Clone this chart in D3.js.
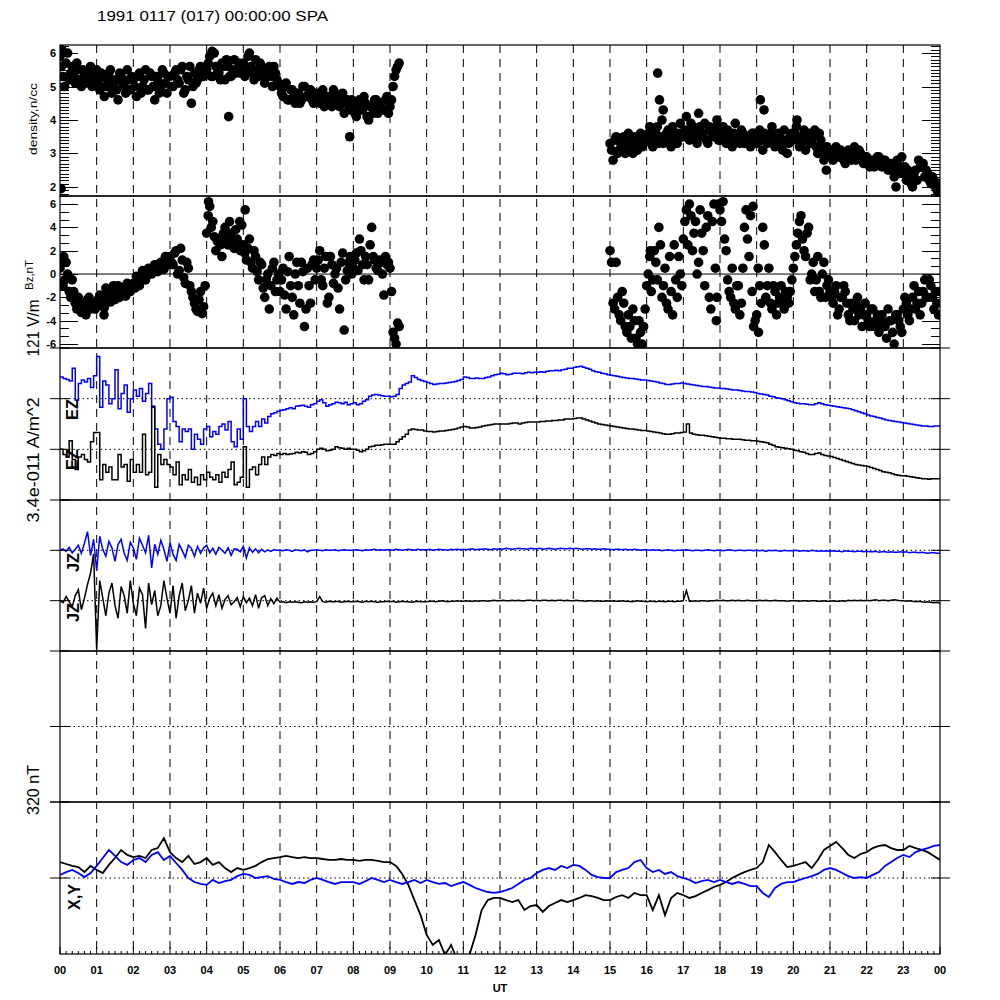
<!DOCTYPE html>
<html><head><meta charset="utf-8">
<script src="https://cdn.jsdelivr.net/npm/d3@7"></script>
<style>body{margin:0;background:#fff}svg{display:block}text{font-family:"Liberation Sans",Arial,sans-serif}</style>
</head><body><svg id="c" width="1000" height="1000"></svg>
<script>
// ---------------- DATA ----------------
const titleText = "1991 0117 (017) 00:00:00 SPA";
const hourLabels = ["00","01","02","03","04","05","06","07","08","09","10","11","12","13","14","15","16","17","18","19","20","21","22","23","00"];
const densityTicks = [2,3,4,5,6];
const bzTicks = [-6,-4,-2,0,2,4,6];
const stepScatter = 5/60;   // hours between scatter samples (each pass)
const passOffset = 2.5/60;  // second pass is offset by 2.5 min
const stepLine = 5/60;      // hours between E/J samples
const stepMag = 10/60;      // hours between X,Y samples

// density, n/cc  (segment 1 starts 00 UT, segment 2 starts 15 UT)
const densitySeg1Start = 0;
const densitySeg1 = [
5.9,5.3,5.7,5.2,5.6,5.1,5.5,5.0,5.4,5.2,5.6,5.1,
5.5,4.9,5.3,5.0,5.4,4.8,5.2,4.6,5.3,5.0,5.5,4.9,
5.2,4.7,5.4,5.0,5.5,4.9,5.3,4.6,5.2,5.0,5.4,4.8,
5.3,5.0,5.5,5.1,5.6,4.9,5.2,4.5,5.4,5.2,5.6,5.3,
5.5,5.9,5.3,5.6,5.4,5.7,5.2,5.6,5.3,5.8,5.5,5.4,
5.7,5.5,6.0,5.4,5.8,5.3,5.6,5.1,5.5,5.3,5.6,5.2,
5.0,4.7,5.1,4.6,4.9,4.5,4.8,4.6,5.0,4.7,4.9,4.5,
4.8,4.5,4.9,4.6,4.7,4.4,4.8,4.5,4.7,4.2,4.6,4.3,
4.4,4.1,4.6,4.3,4.5,4.0,4.4,4.6,4.2,4.5,4.3,4.7,
4.4,5.0,5.5,5.7];
const densitySeg1b = [
5.6,5.0,6.0,5.4,5.3,5.7,5.2,5.5,5.1,5.4,5.0,5.3,
5.1,5.4,4.7,5.2,5.5,5.0,4.9,5.4,5.1,4.8,5.2,5.3,
5.0,5.3,4.8,5.2,4.9,5.4,5.0,5.3,4.8,5.5,5.1,5.3,
5.0,5.4,5.2,5.5,4.8,5.3,5.6,5.0,5.1,5.5,5.3,5.5,
5.7,5.3,6.0,5.4,5.2,5.6,5.8,5.3,5.5,5.4,5.7,5.6,
5.3,5.9,5.6,5.2,5.5,5.7,5.4,5.3,5.6,5.0,5.4,5.1,
4.8,5.0,4.6,4.9,4.7,4.8,4.5,5.0,4.7,4.9,4.6,4.8,
4.6,4.8,4.4,4.7,4.5,4.9,4.6,4.4,4.8,4.5,4.4,4.6,
4.2,4.5,4.3,4.7,4.1,4.4,4.2,4.6,4.4,4.3,4.6,4.2,
4.6,5.3,5.6];
const densitySeg2Start = 15;
const densitySeg2 = [
3.3,2.8,3.5,3.1,3.4,3.0,3.6,3.2,3.5,3.1,3.6,3.3,
3.4,3.8,3.2,3.6,3.3,4.0,3.4,3.7,3.2,3.6,3.3,3.9,
3.5,4.1,3.4,3.8,3.6,4.2,3.5,3.9,3.3,3.7,3.6,4.0,
3.4,3.8,3.3,3.6,3.2,3.9,3.4,3.7,3.3,3.5,3.2,3.6,
3.3,3.7,3.1,3.5,3.4,3.8,3.2,3.6,3.3,3.7,3.0,3.5,
3.4,3.8,3.2,3.5,3.1,3.6,3.3,3.7,3.0,3.4,2.8,3.2,
3.1,2.8,3.2,2.9,3.0,2.7,3.1,2.8,3.2,2.9,3.0,2.7,
2.9,2.6,2.8,2.7,2.9,2.6,2.8,2.5,2.7,2.3,2.8,2.6,
2.4,2.2,2.3,2.0,2.5,2.8,2.6,2.3,2.4,2.1,2.2,1.9,
1.8];
const densitySeg2b = [
3.1,3.4,3.0,3.3,3.5,3.2,3.4,3.0,3.3,3.5,3.2,3.5,
3.6,3.3,3.5,3.8,3.5,3.3,3.6,3.4,3.8,3.4,3.6,3.5,
3.7,3.6,3.9,3.5,3.3,3.8,3.6,3.4,3.8,3.5,3.8,3.4,
3.6,3.5,3.7,3.4,3.6,3.5,3.3,3.6,3.5,3.3,3.6,3.4,
3.5,3.4,3.6,3.3,3.6,3.5,3.4,3.5,3.1,3.4,3.3,3.6,
3.6,3.5,3.3,3.7,3.4,3.3,3.5,3.2,3.6,3.2,3.0,3.0,
2.9,3.0,2.9,3.1,2.8,3.0,2.9,3.0,2.8,3.1,2.8,2.9,
2.7,2.8,2.6,2.9,2.7,2.8,2.6,2.7,2.5,2.6,2.4,2.9,
2.6,2.5,2.1,2.4,2.2,2.6,2.7,2.5,2.2,2.3,2.0,2.1];
const densityExtraT = [0.03,0.05,4.15,4.6,7.9,16.3,16.35,16.45,19.1,19.2,20.1,20.9,22.8];
const densityExtraV = [1.95,6.1,6.05,4.1,3.5,5.4,4.6,4.3,4.6,4.3,4.0,2.5,2.0];

// Bz, nT
const bzSeg1Start = 0;
const bzSeg1 = [
0.5,-1.0,1.0,-1.5,-0.5,-2.5,-2.0,-3.3,-2.8,-2.2,-3.0,-2.5,
-2.8,-1.8,-2.5,-1.2,-2.0,-1.5,-2.2,-1.0,-1.8,-1.3,-0.8,-1.5,
-0.8,-0.2,-1.0,0.3,-0.5,0.5,0.0,0.8,0.2,1.0,0.4,1.2,
1.5,0.8,2.0,0.3,1.2,-0.8,0.5,-1.5,-2.5,-3.2,-1.5,-2.8,
3.5,5.8,4.5,2.0,3.0,1.5,4.0,2.5,3.5,2.2,3.0,2.0,
2.5,1.2,3.0,0.5,1.5,-0.5,0.8,-2.0,0.0,-1.0,1.0,-0.5,
-1.5,0.5,-3.0,1.5,-2.0,0.0,-1.0,1.0,-4.5,0.5,-2.5,1.2,
0.5,2.0,-1.0,1.5,-2.0,0.8,0.0,-1.2,1.0,-4.8,0.3,1.5,
0.5,1.8,3.0,0.8,1.5,-0.5,4.0,1.2,0.3,1.0,-1.8,0.8,
0.5,-5.0,-6.0,-4.5];
const bzSeg1b = [
1.2,-0.5,0.0,-2.0,-1.5,-3.0,-2.5,-2.8,-3.5,-2.0,-2.7,-3.0,
-2.2,-2.0,-2.9,-1.6,-2.4,-1.0,-1.7,-2.0,-1.2,-1.9,-1.0,-1.2,
-1.2,-0.5,-0.3,0.0,-0.1,0.3,0.6,0.4,0.9,0.6,1.5,0.8,
1.0,1.8,0.0,2.2,-0.3,1.0,-1.0,-2.0,-3.0,-2.2,-3.4,-1.0,
5.0,4.0,3.2,2.8,2.5,3.5,3.0,4.5,2.8,3.8,2.5,4.2,
1.8,2.2,1.0,2.0,0.2,1.0,-1.2,-0.5,-3.0,0.5,-1.5,0.0,
-0.5,-1.8,0.2,-1.0,-3.5,1.0,-2.5,0.2,-3.0,-1.0,0.8,-0.5,
1.2,-0.5,0.5,-2.5,1.5,-0.8,0.5,-3.0,1.8,-0.5,1.0,0.0,
1.2,0.3,2.0,-0.5,0.8,2.5,1.5,0.5,1.2,0.0,1.5,1.0,
-1.5,-5.5,-4.2];
const bzSeg2Start = 15;
const bzSeg2 = [
2.0,-2.5,1.0,-3.5,-1.5,-4.5,-3.5,-5.5,-4.0,-6.0,-5.0,-4.5,
-1.0,1.5,-0.5,1.0,4.0,-2.0,0.5,-3.0,-1.5,2.5,-2.0,0.0,
3.0,5.5,6.0,2.0,4.5,1.0,3.5,-1.0,5.0,-3.0,6.0,-2.0,
5.5,6.2,2.0,-1.5,0.5,-3.0,-1.0,-2.5,4.0,3.0,5.0,-4.5,
-3.5,-1.0,4.0,-2.0,0.5,-3.0,-1.5,-2.5,-1.0,-3.0,-2.0,-1.5,
0.5,2.5,4.5,3.0,1.5,4.0,0.0,-1.5,1.5,-2.0,1.0,-1.0,
-1.5,-2.5,-1.0,-3.0,-2.0,-1.5,-3.5,-2.5,-4.0,-2.0,-3.0,-3.5,
-3.5,-4.5,-3.0,-4.0,-5.0,-3.5,-4.5,-3.0,-4.0,-6.0,-3.5,-4.5,
-3.0,-2.5,-4.0,-2.0,-3.0,-1.5,-2.5,-0.5,-2.0,-1.0,-3.0,-2.5,
-1.5];
const bzSeg2b = [
1.0,-3.0,-2.0,-4.0,-2.5,-5.0,-4.5,-3.0,-5.5,-4.0,-6.0,-3.0,
0.0,-1.5,2.0,-0.5,2.5,-1.0,-2.5,1.5,-3.5,-0.5,1.5,-1.0,
4.5,2.5,5.0,3.5,0.0,5.5,2.0,4.0,-2.0,4.5,0.5,6.0,
4.5,3.0,-0.5,-2.0,-2.5,-1.0,-3.5,0.5,5.5,1.5,-1.5,-4.0,
0.5,-2.5,2.5,-1.0,-2.5,-1.0,-3.5,-2.0,-2.5,-1.5,-2.5,-0.5,
1.5,3.5,5.0,2.0,3.5,-0.5,1.0,-0.5,-1.5,0.0,-2.0,-0.5,
-2.0,-1.5,-3.5,-2.0,-1.0,-2.5,-4.0,-3.0,-2.5,-3.5,-4.5,-2.5,
-4.0,-3.0,-4.5,-3.5,-4.0,-4.5,-5.5,-4.0,-5.0,-3.5,-4.0,-5.0,
-2.0,-3.5,-3.0,-1.0,-2.5,-3.5,-1.5,-2.0,-0.5,-2.0,-1.5,-3.5];
const bzExtraT = [0.1,1.2,4.05,4.9,5.05,16.1,17.9,18.9,19.05];
const bzExtraV = [1.5,-3.5,6.2,4.5,5.5,2.0,-4.0,5.8,-5.0];

// EZ (divisions of 121 V/m about each trace's baseline)
const ezBlue = [
0.43,0.40,0.38,0.35,0.60,-0.03,0.30,0.37,0.33,0.40,0.22,0.45,
0.83,-0.17,0.35,0.27,-0.10,0.00,0.57,-0.20,0.10,0.27,-0.27,0.00,
0.17,0.05,0.20,-0.05,0.10,0.30,-0.17,-0.60,-0.90,-1.00,-0.60,0.00,
0.03,-0.45,-0.55,-0.85,-0.60,-0.65,-0.60,-1.00,-0.70,-0.80,-0.90,-0.60,
-0.55,-0.75,-0.65,-0.70,-0.55,-0.50,-0.62,-0.45,-0.85,-0.95,-0.60,-0.80,
0.00,-0.55,-0.65,-0.55,-0.45,-0.55,-0.40,-0.48,-0.35,-0.30,-0.28,-0.25,
-0.23,-0.22,-0.20,-0.18,-0.20,-0.15,-0.14,-0.13,-0.15,-0.17,-0.12,-0.10,
-0.05,-0.02,-0.08,-0.15,-0.12,-0.10,-0.07,-0.08,-0.10,-0.07,-0.12,-0.10,
-0.08,-0.12,-0.10,-0.05,-0.02,0.05,0.07,0.08,0.07,0.06,0.05,0.05,
0.04,0.05,0.08,0.20,0.27,0.30,0.33,0.45,0.42,0.38,0.36,0.34,
0.32,0.30,0.28,0.29,0.30,0.30,0.31,0.32,0.33,0.34,0.36,0.38,
0.43,0.42,0.40,0.40,0.41,0.40,0.40,0.42,0.43,0.45,0.47,0.48,
0.50,0.49,0.47,0.48,0.50,0.50,0.50,0.49,0.51,0.52,0.51,0.52,
0.52,0.53,0.52,0.54,0.55,0.55,0.56,0.55,0.57,0.58,0.60,0.60,
0.62,0.63,0.64,0.62,0.60,0.58,0.55,0.53,0.52,0.50,0.49,0.47,
0.46,0.45,0.44,0.43,0.42,0.41,0.40,0.40,0.39,0.38,0.37,0.37,
0.36,0.35,0.34,0.33,0.31,0.30,0.28,0.28,0.29,0.30,0.30,0.31,
0.30,0.29,0.28,0.27,0.26,0.25,0.24,0.24,0.23,0.22,0.21,0.21,
0.20,0.20,0.19,0.18,0.17,0.17,0.16,0.15,0.14,0.14,0.13,0.12,
0.10,0.09,0.08,0.07,0.05,0.04,0.02,0.01,0.00,-0.02,-0.04,-0.06,
-0.08,-0.09,-0.10,-0.10,-0.11,-0.12,-0.12,-0.10,-0.08,-0.10,-0.12,-0.13,
-0.14,-0.15,-0.16,-0.17,-0.18,-0.19,-0.20,-0.22,-0.24,-0.26,-0.28,-0.30,
-0.32,-0.34,-0.35,-0.37,-0.38,-0.40,-0.42,-0.43,-0.44,-0.45,-0.46,-0.47,
-0.48,-0.49,-0.50,-0.51,-0.52,-0.53,-0.54,-0.54,-0.55,-0.55,-0.54,-0.54,
-0.54];
const ezBlack = [
0.00,-0.10,-0.15,0.17,-0.20,-0.40,-0.15,-0.10,-0.20,-0.25,0.15,0.33,
0.33,-0.60,-0.30,-0.45,-0.35,-0.60,-0.60,-0.10,-0.35,-0.30,-0.63,-0.20,
-0.45,-0.30,-0.45,0.30,-0.50,-0.45,0.85,-0.75,-0.10,-0.30,-0.20,-0.30,
-0.35,-0.50,-0.25,-0.70,-0.50,-0.60,-0.40,-0.65,-0.55,-0.70,-0.50,-0.60,
-0.45,-0.55,-0.60,-0.50,-0.65,-0.45,-0.55,-0.40,-0.25,-0.70,-0.65,-0.55,
0.05,-0.75,-0.40,-0.35,-0.50,-0.30,-0.15,-0.30,-0.15,-0.10,-0.12,-0.08,
-0.10,-0.08,-0.10,-0.09,-0.08,-0.06,-0.07,-0.05,-0.06,-0.10,-0.08,-0.05,
0.00,0.02,0.00,-0.03,-0.02,0.00,0.05,0.03,0.02,0.00,0.02,0.00,
0.00,-0.02,-0.05,-0.03,0.00,0.05,0.06,0.08,0.08,0.09,0.10,0.10,
0.10,0.10,0.15,0.20,0.25,0.30,0.38,0.40,0.39,0.38,0.38,0.36,
0.35,0.35,0.34,0.35,0.36,0.36,0.37,0.38,0.39,0.40,0.42,0.44,
0.45,0.44,0.42,0.42,0.43,0.44,0.46,0.47,0.48,0.49,0.50,0.50,
0.50,0.50,0.50,0.51,0.52,0.52,0.50,0.52,0.53,0.54,0.54,0.54,
0.54,0.55,0.55,0.56,0.56,0.57,0.57,0.58,0.58,0.60,0.60,0.60,
0.61,0.62,0.62,0.60,0.58,0.56,0.54,0.52,0.50,0.49,0.48,0.47,
0.46,0.45,0.44,0.43,0.42,0.41,0.40,0.40,0.39,0.38,0.37,0.37,
0.36,0.35,0.34,0.33,0.32,0.31,0.30,0.30,0.31,0.32,0.32,0.33,
0.34,0.50,0.32,0.30,0.29,0.28,0.28,0.27,0.26,0.25,0.24,0.23,
0.22,0.22,0.21,0.21,0.20,0.20,0.20,0.19,0.18,0.18,0.17,0.17,
0.16,0.15,0.14,0.13,0.10,0.08,0.05,0.04,0.03,0.02,0.01,0.00,
-0.02,-0.03,-0.05,-0.06,-0.08,-0.10,-0.10,-0.08,-0.07,-0.10,-0.12,-0.13,
-0.14,-0.16,-0.18,-0.20,-0.22,-0.24,-0.26,-0.28,-0.30,-0.31,-0.32,-0.33,
-0.34,-0.36,-0.38,-0.40,-0.42,-0.44,-0.45,-0.46,-0.48,-0.50,-0.51,-0.52,
-0.52,-0.53,-0.54,-0.55,-0.56,-0.57,-0.58,-0.58,-0.59,-0.58,-0.58,-0.58,
-0.58];

// JZ (divisions of 3.4e-011 A/m^2)
const jzBlue = [
0.00,0.03,-0.02,0.06,-0.05,0.02,0.10,-0.06,0.14,0.37,-0.10,0.22,
-0.40,0.28,0.02,-0.12,0.18,0.05,-0.22,0.12,0.22,-0.06,-0.20,0.16,
0.05,-0.18,0.24,0.10,-0.05,0.30,-0.35,0.12,-0.08,0.20,0.02,-0.22,
0.15,-0.08,-0.20,0.12,0.00,-0.14,0.10,0.04,-0.12,0.08,-0.06,0.05,
0.10,-0.05,0.04,-0.08,0.06,0.00,-0.06,0.05,-0.10,0.03,0.02,-0.03,
0.08,-0.15,0.05,-0.04,0.03,-0.05,0.02,-0.03,0.01,-0.02,0.01,0.00,
0.00,-0.01,0.01,0.00,-0.02,0.01,0.00,-0.01,0.01,-0.03,0.00,0.00,
0.01,0.00,-0.01,0.01,0.00,0.00,0.01,-0.01,0.00,0.01,0.00,0.00,
0.00,0.01,0.00,-0.01,0.01,0.00,0.01,0.02,0.00,0.01,0.00,0.01,
0.01,0.00,0.02,0.01,0.00,0.01,0.02,0.01,0.00,0.02,0.01,0.01,
0.01,0.02,0.00,0.01,0.02,0.01,0.01,0.00,0.02,0.01,0.02,0.01,
0.02,0.01,0.02,0.03,0.01,0.02,0.02,0.03,0.02,0.01,0.03,0.02,
0.03,0.02,0.04,0.03,0.02,0.03,0.04,0.03,0.03,0.02,0.04,0.03,
0.03,0.04,0.02,0.03,0.04,0.03,0.02,0.03,0.04,0.03,0.03,0.04,
0.03,0.04,0.03,0.02,0.03,0.03,0.02,0.03,0.02,0.02,0.03,0.02,
0.02,0.01,0.02,0.02,0.01,0.02,0.01,0.01,0.02,0.01,0.00,0.01,
0.01,0.00,0.01,0.00,0.01,-0.01,0.00,0.01,0.00,-0.01,0.00,0.00,
0.00,0.01,0.00,-0.01,0.00,0.00,-0.01,0.00,0.01,0.00,-0.01,0.00,
0.00,-0.01,0.00,0.01,0.00,-0.01,0.00,0.00,-0.01,0.00,0.00,-0.01,
0.00,-0.01,0.00,-0.02,0.00,-0.01,0.00,-0.01,-0.02,0.00,-0.01,-0.01,
-0.01,0.00,-0.02,-0.01,-0.01,-0.02,0.00,-0.01,-0.02,-0.01,-0.02,-0.01,
-0.02,-0.01,-0.02,-0.02,-0.03,-0.01,-0.02,-0.02,-0.03,-0.02,-0.02,-0.03,
-0.02,-0.03,-0.03,-0.02,-0.04,-0.03,-0.03,-0.04,-0.03,-0.04,-0.04,-0.03,
-0.04,-0.03,-0.05,-0.04,-0.04,-0.05,-0.04,-0.05,-0.06,-0.05,-0.05,-0.06,
-0.06];
const jzBlack = [
0.00,-0.04,0.08,-0.02,-0.12,0.10,0.22,-0.18,0.05,0.32,0.55,0.93,
-0.97,0.40,0.05,-0.30,0.15,0.35,-0.10,-0.35,0.28,0.10,-0.25,0.40,
-0.05,-0.30,0.25,0.12,-0.55,0.35,-0.08,0.20,-0.30,-0.10,0.40,0.05,
-0.25,0.30,-0.35,0.10,0.35,-0.20,0.00,0.30,-0.25,0.15,-0.05,0.25,
-0.15,0.05,0.15,-0.10,0.12,-0.15,0.02,0.10,-0.08,-0.02,0.06,-0.12,
0.08,-0.04,0.05,-0.10,0.12,-0.15,0.06,0.10,-0.10,0.04,-0.06,0.05,
-0.03,-0.02,-0.04,-0.02,-0.03,-0.02,-0.03,-0.04,-0.02,-0.03,-0.02,-0.03,
-0.02,0.08,-0.02,-0.03,-0.01,-0.02,-0.02,-0.01,-0.03,-0.02,-0.01,-0.02,
-0.02,-0.01,-0.02,-0.03,-0.01,-0.02,-0.01,-0.02,-0.03,-0.02,-0.02,-0.01,
-0.02,-0.01,-0.03,-0.02,-0.01,-0.02,-0.02,-0.03,-0.02,-0.01,-0.02,-0.02,
-0.02,-0.01,-0.01,-0.02,-0.01,0.00,-0.01,-0.02,-0.01,-0.01,0.00,-0.01,
-0.01,0.00,-0.01,-0.01,0.00,-0.01,0.00,0.00,-0.01,0.00,0.01,0.00,
0.00,0.01,0.00,0.00,0.01,0.00,0.01,0.00,0.00,0.01,0.01,0.00,
0.01,0.00,0.01,0.01,0.00,0.01,0.00,0.01,0.01,0.00,0.01,0.00,
0.00,0.01,0.00,0.00,-0.01,0.00,0.00,-0.01,0.00,-0.01,-0.01,0.00,
-0.01,0.00,-0.01,-0.01,0.00,-0.01,-0.01,-0.02,-0.01,0.00,-0.01,-0.01,
-0.02,-0.01,-0.01,-0.02,-0.01,-0.01,-0.02,-0.01,-0.01,-0.02,-0.01,-0.01,
0.00,0.20,-0.01,-0.01,0.00,-0.01,0.00,0.00,-0.01,0.00,0.00,0.01,
0.00,0.01,0.00,0.00,0.01,0.00,0.01,0.00,0.00,0.01,0.00,0.00,
0.00,0.01,0.00,0.01,0.00,0.00,0.01,0.00,0.00,0.00,-0.01,0.00,
0.00,0.00,-0.01,0.00,0.00,-0.01,0.00,0.00,-0.01,-0.01,0.00,-0.01,
-0.01,0.00,-0.01,-0.01,0.00,-0.01,0.01,0.00,0.01,0.00,0.01,0.00,
0.01,0.00,0.01,0.02,0.00,0.01,0.01,0.00,0.01,0.02,0.01,0.00,
0.00,-0.01,0.00,-0.01,-0.02,-0.01,-0.02,-0.03,-0.02,-0.03,-0.04,-0.03,
-0.05];

// X (black) and Y (blue), nT
const magX = [
67,59,51,46,25,51, 34,21,55,84,118,97, 88,93,84,118,126,168, 109,84,67,93,59,67,
84,55,67,42,25,42, 34,42,51,67,80,84, 88,93,88,84,88,84, 84,80,76,76,80,76,
76,72,76,76,72,67, 67,51,17,-29,-93,-156, -240,-282,-261,-324,-282,-345, -345,-324,-240,-135,-93,-84,
-84,-93,-101,-93,-135,-118, -114,-143,-118,-105,-93,-101, -93,-84,-72,-76,-84,-93, -93,-80,-72,-84,-63,-72,
-72,-135,-72,-156,-84,-63, -72,-84,-76,-63,-51,-38, -29,-17,0,13,25,34, 42,67,139,109,76,46,
51,59,67,42,76,118, 135,152,126,97,84,101, 109,126,135,139,126,118, 118,135,126,118,109,93,
76];
const magY = [
13,25,34,21,4,21, 51,84,118,93,67,55, 76,84,67,97,109,76, 93,63,34,0,-17,-25,
-29,-8,-21,-13,-8,8, 17,13,0,4,8,-4, -8,-17,-25,-17,-21,-8, 0,-8,-17,-25,-17,-17,
-17,-25,-13,0,-8,-17, -8,-17,-25,-17,-8,-21, -8,-17,-25,-21,-34,-25, -17,-29,-42,-51,-59,-63,
-59,-51,-42,-25,-8,0, 21,34,42,34,51,42, 55,51,34,13,4,0, 0,25,34,42,67,76,
42,25,34,17,25,8, 0,-8,-21,-13,-8,-17, -8,-17,-25,-17,-25,-34, -34,-63,-80,-42,-25,-17,
-17,-8,0,8,17,34, 42,34,21,8,0,4, 0,13,25,51,67,84, 97,88,109,118,126,135,
139];

// ---------------- LAYOUT ----------------
const L = 60, R = 940;
const P = [
  {top:45, bot:196},   // density
  {top:196, bot:348},  // Bz
  {top:348, bot:500},  // EZ
  {top:500, bot:651},  // JZ
  {top:651, bot:802},  // empty
  {top:802, bot:954}   // X,Y
];
const svg = d3.select("#c");
const x = d3.scaleLinear().domain([0,24]).range([L,R]);
const yDen = d3.scaleLinear().domain([1.73,6.24]).range([P[0].bot,P[0].top]);
const yBz  = d3.scaleLinear().domain([-6.34,6.69]).range([P[1].bot,P[1].top]);
const yE   = d3.scaleLinear().domain([0,3]).range([P[2].bot,P[2].top]);
const yJ   = d3.scaleLinear().domain([0,3]).range([P[3].bot,P[3].top]);
const yN   = d3.scaleLinear().domain([0,2]).range([P[4].bot,P[4].top]);
const yXY  = d3.scaleLinear().domain([-320,320]).range([P[5].bot,P[5].top]);

const defs = svg.append("defs");
P.forEach((p,i)=>{
  defs.append("clipPath").attr("id","clip"+i).append("rect")
    .attr("x",L).attr("y",p.top).attr("width",R-L).attr("height",p.bot-p.top);
});

// hourly dashed lines
svg.append("g").selectAll("line").data(d3.range(1,24)).join("line")
  .attr("x1",d=>x(d)).attr("x2",d=>x(d)).attr("y1",P[0].top).attr("y2",P[5].bot)
  .attr("stroke","#000").attr("stroke-width",1).attr("stroke-dasharray","8,6");

// dotted reference lines
const dotted = [yE(2),yE(1),yJ(2),yJ(1),yN(1),yXY(0)];
svg.append("g").selectAll("line").data(dotted).join("line")
  .attr("x1",L).attr("x2",R).attr("y1",d=>d).attr("y2",d=>d)
  .attr("stroke","#000").attr("stroke-width",1).attr("stroke-dasharray","1.5,3");

// Bz zero line
svg.append("line").attr("x1",L).attr("x2",R).attr("y1",yBz(0)).attr("y2",yBz(0))
  .attr("stroke","#000").attr("stroke-width",1);

// ---------- scatter panels ----------
function seg(arr,start,step){ return arr.map((v,i)=>({t:start+i*step,v})); }
const denPts = seg(densitySeg1,densitySeg1Start,stepScatter)
  .concat(seg(densitySeg1b,densitySeg1Start+passOffset,stepScatter))
  .concat(seg(densitySeg2,densitySeg2Start,stepScatter))
  .concat(seg(densitySeg2b,densitySeg2Start+passOffset,stepScatter))
  .concat(densityExtraT.map((t,i)=>({t,v:densityExtraV[i]})));
svg.append("g").attr("clip-path","url(#clip0)").selectAll("circle").data(denPts).join("circle")
  .attr("cx",d=>x(d.t)).attr("cy",d=>yDen(d.v)).attr("r",4.8).attr("fill","#000");

const bzPts = seg(bzSeg1,bzSeg1Start,stepScatter)
  .concat(seg(bzSeg1b,bzSeg1Start+passOffset,stepScatter))
  .concat(seg(bzSeg2,bzSeg2Start,stepScatter))
  .concat(seg(bzSeg2b,bzSeg2Start+passOffset,stepScatter))
  .concat(bzExtraT.map((t,i)=>({t,v:bzExtraV[i]})));
svg.append("g").attr("clip-path","url(#clip1)").selectAll("circle").data(bzPts).join("circle")
  .attr("cx",d=>x(d.t)).attr("cy",d=>yBz(d.v)).attr("r",4.8).attr("fill","#000");

// ---------- line panels ----------
function drawLine(arr,step,yScale,base,color,clip,curve,width){
  const line = d3.line().x((d,i)=>x(i*step)).y(d=>yScale(base+d)).curve(curve);
  svg.append("path").attr("clip-path","url(#"+clip+")").datum(arr).attr("d",line)
    .attr("fill","none").attr("stroke",color).attr("stroke-width",width).attr("stroke-linejoin","miter");
}
drawLine(ezBlue,stepLine,yE,2,"#0000ff","clip2",d3.curveStepAfter,1.5);
drawLine(ezBlack,stepLine,yE,1,"#000","clip2",d3.curveStepAfter,1.5);
drawLine(jzBlue,stepLine,yJ,2,"#0000ff","clip3",d3.curveLinear,1.5);
drawLine(jzBlack,stepLine,yJ,1,"#000","clip3",d3.curveLinear,1.5);

function drawMag(arr,color){
  const line = d3.line().x((d,i)=>x(i*stepMag)).y(d=>yXY(d)).curve(d3.curveLinear);
  svg.append("path").attr("clip-path","url(#clip5)").datum(arr).attr("d",line)
    .attr("fill","none").attr("stroke",color).attr("stroke-width",1.8);
}
drawMag(magX,"#000");
drawMag(magY,"#0000ff");

// ---------- frames ----------
const frame = svg.append("g").attr("stroke","#000").attr("stroke-width",1.2).attr("fill","none");
P.forEach(p=>{
  frame.append("rect").attr("x",L).attr("y",p.top).attr("width",R-L).attr("height",p.bot-p.top);
});

// density ticks (major every 1, minor every 0.1) on both sides, inward
const tk = svg.append("g").attr("stroke","#000").attr("stroke-width",1);
d3.range(18,63).forEach(k=>{
  const v = k/10; const major = (k%10===0); const len = major?18:9;
  const yy = Math.round(yDen(v))+0.5;
  tk.append("line").attr("x1",L).attr("x2",L+len).attr("y1",yy).attr("y2",yy);
  tk.append("line").attr("x1",R-len).attr("x2",R).attr("y1",yy).attr("y2",yy);
});
// Bz ticks (major every 2, minor each 2/3)
d3.range(-9,11).forEach(k=>{
  const v = k*2/3; if (v<-6.34||v>6.69) return;
  const major = (k%3===0); const len = major?18:9;
  const yy = Math.round(yBz(v))+0.5;
  tk.append("line").attr("x1",L).attr("x2",L+len).attr("y1",yy).attr("y2",yy);
  tk.append("line").attr("x1",R-len).attr("x2",R).attr("y1",yy).attr("y2",yy);
});
// division ticks for panels 3-6 (crossing the axis)
const divY = [P[1].bot, yE(2), yE(1), P[2].bot, yJ(2), yJ(1), P[3].bot, yN(1), P[4].bot, yXY(0), P[5].top];
divY.forEach(yy=>{
  tk.append("line").attr("x1",L-10).attr("x2",L+9).attr("y1",yy).attr("y2",yy);
  tk.append("line").attr("x1",R-9).attr("x2",R+10).attr("y1",yy).attr("y2",yy);
});
// bottom axis ticks, 10 min
d3.range(0,24*6+1).forEach(k=>{
  const t = k/6; const major = (k%6===0);
  const xx = x(t);
  tk.append("line").attr("x1",xx).attr("x2",xx).attr("y1",P[5].bot).attr("y2",P[5].bot-(major?7:3));
});

// ---------- text ----------
const T = svg.append("g").attr("fill","#000");
T.append("text").attr("x",97).attr("y",21).attr("font-size",14)
  .attr("textLength",231).attr("lengthAdjust","spacingAndGlyphs").text(titleText);

// y tick labels
densityTicks.forEach(v=>{
  T.append("text").attr("x",56).attr("y",yDen(v)+4).attr("text-anchor","end")
    .attr("font-size",11).attr("font-weight","bold").text(v);
});
bzTicks.forEach(v=>{
  T.append("text").attr("x",56).attr("y",yBz(v)+4).attr("text-anchor","end")
    .attr("font-size",11).attr("font-weight","bold").text(v);
});
// hour labels
hourLabels.forEach((s,i)=>{
  T.append("text").attr("x",x(i)).attr("y",974).attr("text-anchor","middle")
    .attr("font-size",11).attr("font-weight","bold").text(s);
});
T.append("text").attr("x",x(12)).attr("y",992).attr("text-anchor","middle")
  .attr("font-size",11).attr("font-weight","bold").text("UT");

function vtext(str,bx,cy,size,len,weight){
  const t = T.append("text").attr("transform",`translate(${bx},${cy}) rotate(-90)`)
    .attr("text-anchor","middle").attr("font-size",size).text(str);
  if (len) t.attr("textLength",len).attr("lengthAdjust","spacingAndGlyphs");
  if (weight) t.attr("font-weight",weight);
}
vtext("density,n/cc",37,119,10,72);
vtext("Bz,nT",33,275,10,30);
vtext("121 V/m",39,328,16,57);
vtext("3.4e-011 A/m^2",39,460,16,125);
vtext("320 nT",39,790,16,50);

function vstart(str,bx,y0,size,len){
  T.append("text").attr("transform",`translate(${bx},${y0}) rotate(-90)`)
    .attr("text-anchor","start").attr("font-size",size).attr("font-weight","bold")
    .attr("textLength",len).attr("lengthAdjust","spacingAndGlyphs").text(str);
}
vstart("EZ",78,420,16,21);
vstart("EZ",78,470,16,21);
vstart("JZ",79,572,16,19);
vstart("JZ",79,622,16,19);
vstart("X,Y",80,910,16,26);
</script></body></html>
